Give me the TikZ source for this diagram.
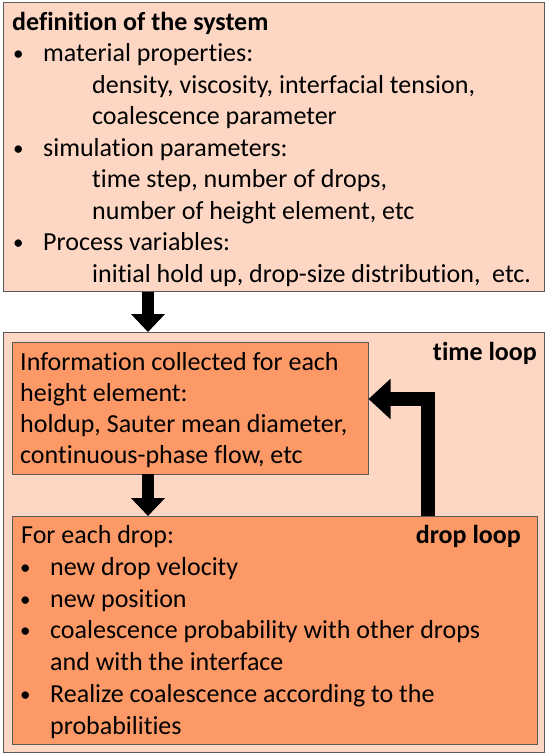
\documentclass[tikz,border=0pt]{standalone}
\usepackage{fontspec}
\setmainfont{Carlito}[Ligatures=NoCommon]
\usetikzlibrary{arrows.meta}

\definecolor{peach}{RGB}{253,215,196}
\definecolor{salmon}{RGB}{252,153,103}
\definecolor{rim}{RGB}{90,90,90}

\tikzset{
  panel/.style={draw=rim, line width=0.8pt, fill=peach, inner sep=0pt, anchor=north west},
  card/.style={draw=rim, line width=0.8pt, fill=salmon, inner sep=0pt, anchor=north west},
  txt/.style={anchor=base west, inner sep=0pt, font=\fontsize{26}{31}\selectfont},
  dot/.style={anchor=base west, inner sep=0pt, font=\fontsize{21}{31}\selectfont},
  head/.style={anchor=base west, inner sep=0pt, font=\fontsize{26}{31}\selectfont\bfseries},
  rhead/.style={anchor=base east, inner sep=0pt, font=\fontsize{26}{31}\selectfont\bfseries},
  blockarrow/.style={line width=12pt, -{Triangle[width=33pt,length=18pt]}},
  looparrow/.style={line width=14.5pt, line join=miter, -{Triangle[width=39pt,length=22pt]}},
}

\begin{document}
\begin{tikzpicture}[x=1pt,y=-1pt]
\useasboundingbox (0,0) rectangle (545,753);

% outer panels
\node[panel, minimum width=541pt, minimum height=289pt] (sys) at (3,2) {};
\node[panel, minimum width=541pt, minimum height=420pt] (time) at (3,332) {};

% inner cards
\node[card, minimum width=356pt, minimum height=132pt] (info) at (11.7,341.5) {};
\node[card, minimum width=525.5pt, minimum height=228pt] (drop) at (11.5,516) {};

% system definition text
\node[head] (t0) at (12,30) {definition of the system};
\node[dot] (b1) at (13,60.5) {•};
\node[txt] (t1) at (43,61.5) {material properties:};
\node[txt] (t2) at (92,93) {density, viscosity, interfacial tension,};
\node[txt] (t3) at (92,124.5) {coalescence parameter};
\node[dot] (b2) at (13,155) {•};
\node[txt] (t4) at (43,156) {simulation parameters:};
\node[txt] (t5) at (92,187.5) {time step, number of drops,};
\node[txt] (t6) at (92,219) {number of height element, etc};
\node[dot] (b3) at (13,249.5) {•};
\node[txt] (t7) at (43,250.5) {Process variables:};
\node[txt] (t8) at (92,282) {initial hold up, drop-size distribution,\ \ etc.};

% time loop
\node[rhead] (tl) at (537,360) {time loop};
\node[txt] (i1) at (20,370) {Information collected for each};
\node[txt] (i2) at (20,401) {height element:};
\node[txt] (i3) at (20,432) {holdup, Sauter mean diameter,};
\node[txt] (i4) at (20,463) {continuous-phase flow, etc};

% drop loop
\node[rhead] (dl) at (521,543) {drop loop};
\node[txt] (d0) at (21,543) {For each drop:};
\node[dot] (db1) at (20,574) {•};
\node[txt] (d1) at (50,575) {new drop velocity};
\node[dot] (db2) at (20,606) {•};
\node[txt] (d2) at (50,607) {new position};
\node[dot] (db3) at (20,637.5) {•};
\node[txt] (d3) at (50,638.5) {coalescence probability with other drops};
\node[txt] (d4) at (50,670) {and with the interface};
\node[dot] (db4) at (20,701) {•};
\node[txt] (d5) at (50,702) {Realize coalescence according to the};
\node[txt] (d6) at (50,734) {probabilities};

% connectors
\coordinate (ax) at (148,0);
\coordinate (bend) at (428,399);
\draw[blockarrow] (sys.south -| ax) -- (time.north -| ax);
\draw[blockarrow] (info.south -| ax) -- (drop.north -| ax);
\draw[looparrow] (drop.north -| bend) |- (info.east |- bend);
\end{tikzpicture}
\end{document}
